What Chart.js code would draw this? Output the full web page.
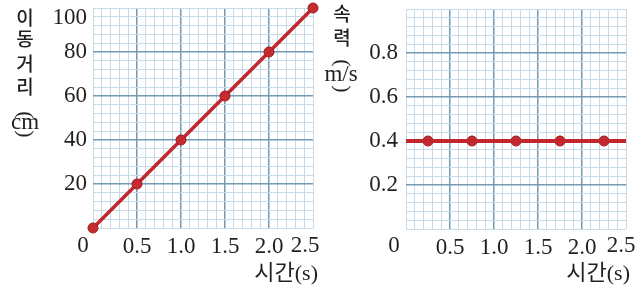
<!DOCTYPE html>
<html>
<head>
<meta charset="utf-8">
<script src="https://cdn.jsdelivr.net/npm/chart.js@4.4.0/dist/chart.umd.min.js"></script>
<style>
    body { margin: 0; background: #fff; width: 642px; height: 296px; position: relative; overflow: hidden; }
    canvas { position: absolute; top: 0; }
    #distancia { left: 0; }
    #rapidez { left: 312px; }
</style>
</head>
<body>
<canvas id="distancia" width="330" height="296"></canvas>
<canvas id="rapidez" width="330" height="296"></canvas>
<script>
// dados
const distTime = [0, 0.5, 1.0, 1.5, 2.0, 2.5];
const distCm = [0, 20, 40, 60, 80, 100];
const speedTime = [0.25, 0.75, 1.25, 1.75, 2.25];
const speedMs = [0.4, 0.4, 0.4, 0.4, 0.4];
const speedLineTime = [0, 2.5];
const speedLineMs = [0.4, 0.4];

// rótulos dos eixos (o último de cada eixo fica deslocado para dentro, como no original)
const timeTicks = [0.5, 1.0, 1.5, 2.0];
const timeLast = '2.5';
const distTicks = [20, 40, 60, 80];
const distLast = '100';
const speedTicks = [0.2, 0.4, 0.6, 0.8];

const RED = '#c1272d';
const MINOR = '#c6dbe7';
const MAJOR = '#7499b3';
const INK = '#231f20';
const SERIF = '"Liberation Serif", "Noto Sans CJK KR", serif';
const HANGUL = '"Noto Sans CJK KR", sans-serif';

function inList(v, list) {
    return list.some(t => Math.abs(t - v) < 1e-6);
}

function isMajor(ctx, list) {
    const v = ctx.tick ? ctx.tick.value : 0;
    return inList(v, list);
}

function fixBox(size, horizontal) {
    return scale => {
        if (horizontal) scale.height = size; else scale.width = size;
        scale.paddingTop = 0;
        scale.paddingBottom = 0;
        scale.paddingLeft = 0;
        scale.paddingRight = 0;
    };
}

function gridOf(list) {
    return {
        color: ctx => isMajor(ctx, list) ? MAJOR : MINOR,
        lineWidth: ctx => isMajor(ctx, list) ? 1.5 : 1,
        drawTicks: false
    };
}

const textPlugin = {
    id: 'textos',
    afterDraw(chart, args, opts) {
        const c = chart.ctx;
        c.save();
        c.fillStyle = INK;
        c.textBaseline = 'middle';
        opts.items.forEach(it => {
            c.save();
            c.font = it.font;
            c.textAlign = it.align || 'center';
            c.translate(it.x, it.y);
            if (it.rot) c.rotate(it.rot);
            c.fillText(it.text, 0, 0);
            c.restore();
        });
        c.restore();
    }
};

function xScale(h) {
    return {
        type: 'linear',
        min: 0,
        max: 2.5,
        afterFit: fixBox(h, true),
        border: { display: false },
        grid: gridOf(timeTicks),
        ticks: {
            stepSize: 0.1,
            autoSkip: false,
            maxRotation: 0,
            padding: 5,
            color: INK,
            font: { family: SERIF, size: 23 },
            callback: v => inList(v, timeTicks) ? v.toFixed(1) : ''
        }
    };
}

let distancia = new Chart(document.getElementById('distancia'), {
    type: 'scatter',
    data: {
        datasets: [{
            data: distTime.map((t, i) => ({ x: t, y: distCm[i] })),
            showLine: true,
            borderColor: RED,
            borderWidth: 3.5,
            pointRadius: 5,
            pointBackgroundColor: '#c62b30',
            pointBorderColor: '#9e1b20',
            pointBorderWidth: 1,
            clip: false
        }]
    },
    options: {
        responsive: false,
        animation: false,
        layout: { padding: { left: 0, right: 17, top: 8, bottom: 0 } },
        scales: {
            x: xScale(68),
            y: {
                type: 'linear',
                min: 0,
                max: 100,
                afterFit: fixBox(93, false),
                border: { display: false },
                grid: gridOf(distTicks),
                ticks: {
                    stepSize: 4,
                    autoSkip: false,
                    padding: 6,
                    color: INK,
                    font: { family: SERIF, size: 23 },
                    callback: v => inList(v, distTicks) ? String(v) : ''
                }
            }
        },
        plugins: {
            legend: { display: false },
            tooltip: { enabled: false },
            textos: {
                items: [
                    { text: '0', x: 83, y: 246, font: '23px ' + SERIF },
                    { text: timeLast, x: 305, y: 246, font: '23px ' + SERIF },
                    { text: distLast, x: 87, y: 18, align: 'right', font: '23px ' + SERIF },
                    { text: '시간(s)', x: 318, y: 274, align: 'right', font: '22px ' + SERIF },
                    { text: '이', x: 25, y: 18, font: '500 19px ' + HANGUL },
                    { text: '동', x: 25, y: 39, font: '500 19px ' + HANGUL },
                    { text: '거', x: 25, y: 64, font: '500 19px ' + HANGUL },
                    { text: '리', x: 25, y: 87, font: '500 19px ' + HANGUL },
                    { text: '(', x: 25, y: 115, rot: Math.PI / 2, font: '22px ' + SERIF },
                    { text: 'cm', x: 25, y: 123, font: '23px ' + SERIF },
                    { text: ')', x: 25, y: 134, rot: Math.PI / 2, font: '22px ' + SERIF }
                ]
            }
        }
    },
    plugins: [textPlugin]
});

let rapidez = new Chart(document.getElementById('rapidez'), {
    type: 'scatter',
    data: {
        datasets: [{
            data: speedLineTime.map((t, i) => ({ x: t, y: speedLineMs[i] })),
            showLine: true,
            borderColor: RED,
            borderWidth: 4,
            pointRadius: 0,
            clip: false
        }, {
            data: speedTime.map((t, i) => ({ x: t, y: speedMs[i] })),
            showLine: false,
            pointRadius: 5,
            pointBackgroundColor: '#c62b30',
            pointBorderColor: '#9e1b20',
            pointBorderWidth: 1,
            clip: false
        }]
    },
    options: {
        responsive: false,
        animation: false,
        layout: { padding: { left: 0, right: 16, top: 9, bottom: 0 } },
        scales: {
            x: xScale(67),
            y: {
                type: 'linear',
                min: 0,
                max: 1,
                afterFit: fixBox(94, false),
                border: { display: false },
                grid: gridOf(speedTicks),
                ticks: {
                    stepSize: 0.04,
                    autoSkip: false,
                    padding: 8,
                    color: INK,
                    font: { family: SERIF, size: 23 },
                    callback: v => inList(v, speedTicks) ? v.toFixed(1) : ''
                }
            }
        },
        plugins: {
            legend: { display: false },
            tooltip: { enabled: false },
            textos: {
                items: [
                    { text: '0', x: 82, y: 246, font: '23px ' + SERIF },
                    { text: timeLast, x: 309, y: 246, font: '23px ' + SERIF },
                    { text: '시간(s)', x: 318, y: 274, align: 'right', font: '22px ' + SERIF },
                    { text: '속', x: 30, y: 14, font: '500 19px ' + HANGUL },
                    { text: '력', x: 30, y: 38, font: '500 19px ' + HANGUL },
                    { text: '(', x: 30, y: 63, rot: Math.PI / 2, font: '22px ' + SERIF },
                    { text: 'm/s', x: 29, y: 75, font: '23px ' + SERIF },
                    { text: ')', x: 30, y: 89, rot: Math.PI / 2, font: '22px ' + SERIF }
                ]
            }
        }
    },
    plugins: [textPlugin]
});
</script>
</body>
</html>
